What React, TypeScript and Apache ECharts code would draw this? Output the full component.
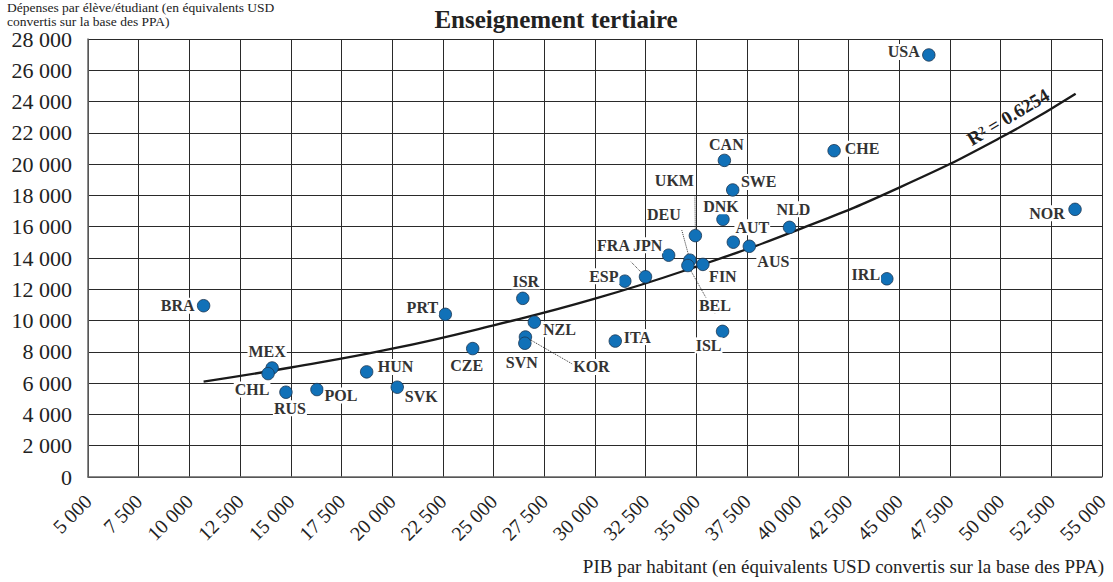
import React, { useEffect, useRef } from "react";
import * as echarts from "echarts";

// ---- Data ----
const countries = ["BRA","MEX","CHL","RUS","POL","HUN","SVK","PRT","CZE","ISR","NZL","KOR","SVN","ITA","ESP","FRA","JPN","DEU","BEL","FIN","UKM","AUT","AUS","DNK","SWE","CAN","NLD","ISL","CHE","IRL","USA","NOR"];
const gdpPerCapita = [10700,14080,13880,14760,16290,18740,20250,22620,23970,26440,27010,26570,26540,31000,31470,32490,33630,34680,34580,35320,34950,36820,37610,36310,36790,36380,39590,36290,41790,44390,46460,53670];
const spendingPerStudent = [10950,6970,6610,5420,5590,6720,5740,10400,8210,11420,9900,8950,8550,8690,12520,12800,14180,13860,13520,13590,15430,15010,14750,16470,18350,20240,15960,9310,20860,12670,26980,17110];
// Trend curve, points
const trendX = [10700,15000,20000,25000,30000,35000,40000,45000,50000,53700];
const trendY = [6100,7000,8200,9700,11400,13450,15800,18500,21700,24500];
const xTicks = { min: 5000, max: 55000, step: 2500 };
const yTicks = { min: 0, max: 28000, step: 2000 };
const r2Text = "R² = 0.6254";
const titleText = "Enseignement tertiaire";
const yAxisNameLines = ["Dépenses par élève/étudiant (en équivalents USD", "convertis sur la base des PPA)"];
const xAxisName = "PIB par habitant (en équivalents USD convertis sur la base des PPA)";

// ---- Layout: label offsets (px) relative to each point ----
const labelOffsets: Record<string, [number, number]> = {
  BRA: [-26, 0], MEX: [-5, -16], CHL: [-16, 16], RUS: [4, 16], POL: [24, 6],
  HUN: [29, -5], SVK: [24, 9], PRT: [-23, -7], CZE: [-6, 17], ISR: [3, -17],
  NZL: [25, 7], KOR: [66, 30], SVN: [-3, 19], ITA: [22, -4], ESP: [-21, -5],
  FRA: [-32, -31], JPN: [-21, -10], DEU: [-26, -46], BEL: [27, 40], FIN: [20, 12],
  UKM: [-21, -55], AUT: [19, -15], AUS: [24, 15], DNK: [-2, -13], SWE: [26, -8],
  CAN: [2, -16], NLD: [4, -18], ISL: [-14, 14], CHE: [28, -2], IRL: [-21, -4],
  USA: [-25, -3], NOR: [-28, 4],
};
const leaderLabels = ["KOR", "FRA", "DEU", "BEL", "UKM"];

const FONT = "'Liberation Serif', 'Times New Roman', serif";
const fmt = (v: number) => String(v).replace(/\B(?=(\d{3})+(?!\d))/g, " ");

export default function App() {
  const ref = useRef<HTMLDivElement>(null);
  useEffect(() => {
    document.body.style.margin = "0";
    if (!ref.current) return;
    const chart = echarts.init(ref.current, undefined, { renderer: "svg" });
    const scatterData = countries.map((c, i) => {
      const item: any = {
        name: c,
        value: [gdpPerCapita[i], spendingPerStudent[i]],
        label: { offset: labelOffsets[c] || [0, 0] },
      };
      if (leaderLabels.includes(c)) {
        item.labelLine = { show: true, lineStyle: { type: "dotted", color: "#333", width: 1 } };
      }
      return item;
    });
    chart.setOption({
      animation: false,
      grid: { left: 88, right: 11, top: 39, bottom: 105 },
      xAxis: {
        type: "value",
        min: xTicks.min, max: xTicks.max, interval: xTicks.step,
        axisLine: { show: true, lineStyle: { color: "#666", width: 1.5 } },
        axisTick: { show: false },
        splitLine: { show: true, lineStyle: { color: "#2a2a2a", width: 1 } },
        axisLabel: {
          rotate: 45, margin: 21, fontSize: 20, fontFamily: FONT, color: "#222",
          formatter: (v: number) => fmt(v),
        },
      },
      yAxis: {
        type: "value",
        min: yTicks.min, max: yTicks.max, interval: yTicks.step,
        axisLine: { show: true, lineStyle: { color: "#666", width: 1.5 } },
        axisTick: { show: false },
        splitLine: { show: true, lineStyle: { color: "#2a2a2a", width: 1 } },
        axisLabel: {
          margin: 16, fontSize: 22, lineHeight: 16, fontFamily: FONT, color: "#222",
          formatter: (v: number) => fmt(v),
        },
      },
      series: [
        {
          type: "line",
          data: trendX.map((x, i) => [x, trendY[i]]),
          smooth: true,
          symbol: "none",
          lineStyle: { color: "#1a1a1a", width: 2.3 },
          z: 2,
          silent: true,
        },
        {
          type: "scatter",
          data: scatterData,
          symbolSize: 12.5,
          itemStyle: { color: "#1171b8", borderColor: "#1b3550", borderWidth: 0.8, opacity: 1 },
          z: 3,
          label: {
            show: true,
            position: "inside",
            formatter: "{b}",
            fontFamily: FONT,
            fontWeight: "bold",
            fontSize: 16,
            color: "#333",
            backgroundColor: "#fff",
            padding: [0, 1],
          },
        },
      ],
      graphic: [
        {
          type: "text", x: 556, y: 19,
          style: { text: titleText, font: `bold 25px ${FONT}`, fill: "#222", align: "center", verticalAlign: "middle" },
        },
        {
          type: "text", x: 7, y: 7,
          style: { text: yAxisNameLines[0], font: `13.5px ${FONT}`, fill: "#222", align: "left", verticalAlign: "middle" },
        },
        {
          type: "text", x: 7, y: 21,
          style: { text: yAxisNameLines[1], font: `13.5px ${FONT}`, fill: "#222", align: "left", verticalAlign: "middle" },
        },
        {
          type: "text", x: 1104, y: 566,
          style: { text: xAxisName, font: `19px ${FONT}`, fill: "#222", align: "right", verticalAlign: "middle" },
        },
        {
          type: "text", x: 1008, y: 117, rotation: 0.54,
          style: { text: r2Text, font: `bold 19px ${FONT}`, fill: "#222", align: "center", verticalAlign: "middle" },
        },
      ],
    });
    return () => chart.dispose();
  }, []);
  return <div ref={ref} style={{ width: 1113, height: 582 }} />;
}
